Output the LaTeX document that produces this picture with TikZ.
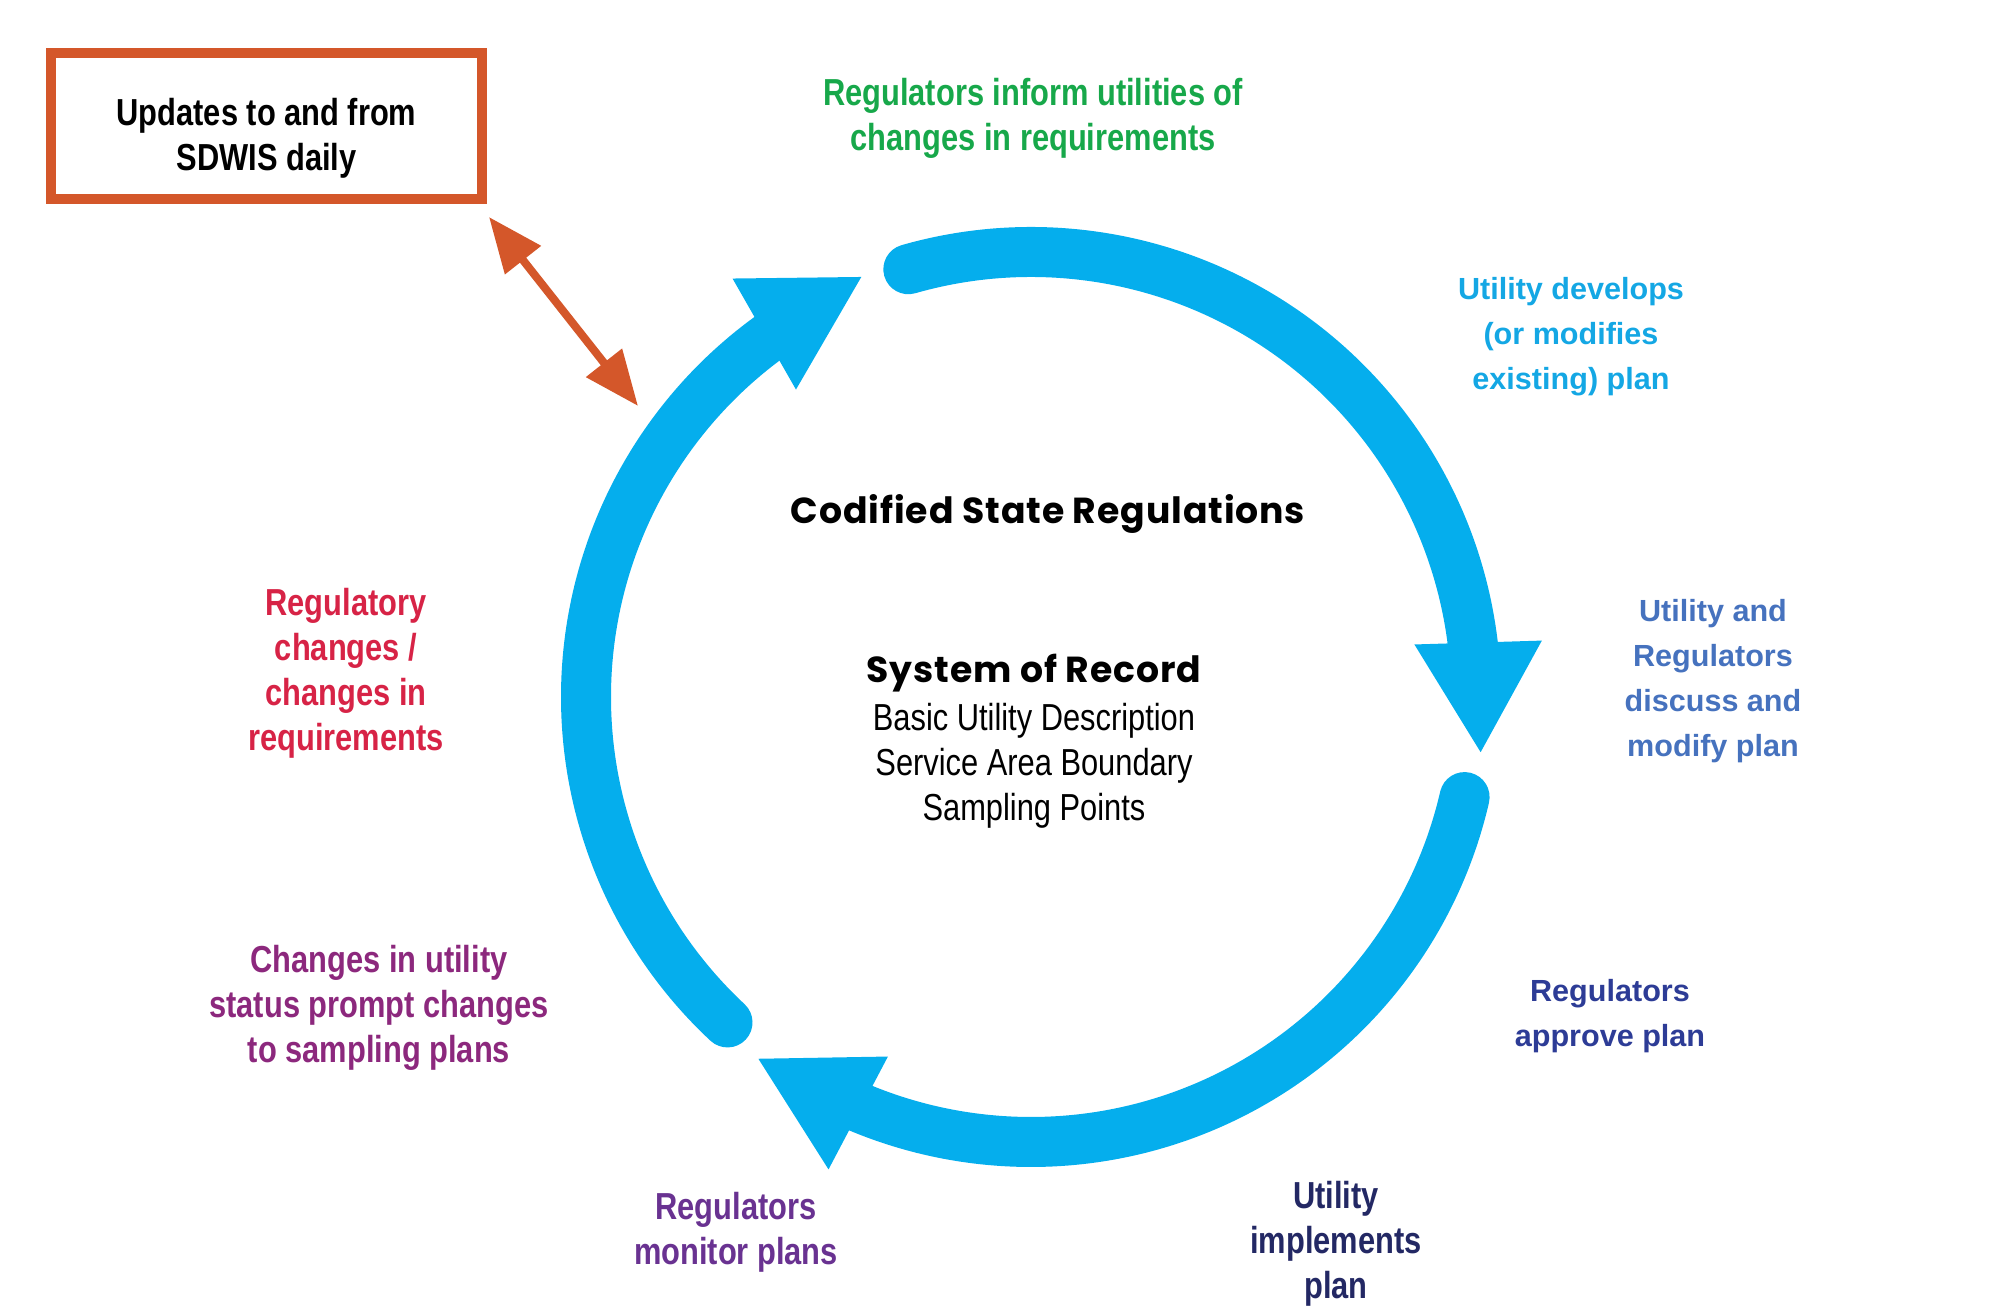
\documentclass[tikz,border=0pt]{standalone}
\usepackage{fontspec}
\usetikzlibrary{arrows.meta}
\newfontfamily\narrowsf[FakeStretch=0.82]{Liberation Sans}
\newfontfamily\widesf{Liberation Sans}
\newfontfamily\geosf[LetterSpace=2.5]{Poppins}
\definecolor{ringblue}{RGB}{5,174,237}
\definecolor{updorange}{RGB}{212,87,42}
\definecolor{informgreen}{RGB}{23,168,74}
\definecolor{devblue}{RGB}{20,167,228}
\definecolor{discblue}{RGB}{70,114,190}
\definecolor{apprblue}{RGB}{45,60,150}
\definecolor{implnavy}{RGB}{35,40,100}
\definecolor{monpurple}{RGB}{105,50,145}
\definecolor{statplum}{RGB}{140,40,125}
\definecolor{regred}{RGB}{215,35,70}

\begin{document}
\begin{tikzpicture}[
    ring/.style={ringblue, line width=5mm, line cap=round},
    lbl/.style={align=center, font=\narrowsf\bfseries\fontsize{10.7}{12.8}\selectfont},
    wlbl/.style={align=center, font=\widesf\bfseries\fontsize{8.7}{12.8}\selectfont},
    ttl/.style={font=\geosf\bfseries\fontsize{10.3}{12}\selectfont}]
  \useasboundingbox (0,0) rectangle (20,13.14);
  \coordinate (c) at (10.31,6.17);
  % three arcs, each ending in a big triangle
  \foreach \s/\m/\i/\o/\t in {106/6/7.8/6.3/-7, -13/-113/-111.7/-113.2/-127, 227/125/127.4/125.5/112}{
    \draw[ring] (c) ++(\s:4.45) arc[start angle=\s, end angle=\m, radius=4.45];
    \fill[ringblue] ([shift={(\i:3.87)}]c) -- ([shift={(\o:5.14)}]c)
      -- ([shift={(\t:4.53)}]c) -- cycle;
  }
  \node[ttl] (csr) at (10.48,8.00) {Codified State Regulations};
  \node[align=center, font=\narrowsf\fontsize{10.7}{12.8}\selectfont] (sor) at (10.34,5.73)
    {{\geosf\bfseries\fontsize{10.3}{12}\selectfont System of Record}\\[1pt]
     Basic Utility Description\\Service Area Boundary\\Sampling Points};
  % step labels round the ring
  \node[lbl, informgreen] (inf) at (10.33,11.96) {Regulators inform utilities of\\changes in requirements};
  \node[wlbl, devblue] (dev) at (15.71,9.77) {Utility develops\\(or modifies\\existing) plan};
  \node[wlbl, discblue] (dsc) at (17.13,6.33) {Utility and\\Regulators\\discuss and\\modify plan};
  \node[wlbl, apprblue] (apr) at (16.10,2.98) {Regulators\\approve plan};
  \node[lbl, implnavy] (imp) at (13.36,0.70) {Utility\\implements\\plan};
  \node[lbl, monpurple] (mon) at (7.36,0.82) {Regulators\\monitor plans};
  \node[lbl, statplum] (sta) at (3.79,3.06) {Changes in utility\\status prompt changes\\to sampling plans};
  \node[lbl, regred] (reg) at (3.46,6.41) {Regulatory\\changes /\\changes in\\requirements};
  % SDWIS box and its link to the ring
  \node[lbl, draw=updorange, line width=1mm, minimum width=4.31cm, minimum height=1.46cm]
    (upd) at (2.665,11.88) {\rule{0pt}{15pt}Updates to and from\\SDWIS daily};
  \coordinate (sdw) at (6.38,9.08);
  \draw[updorange, line width=0.8mm,
    {Triangle[length=5.5mm,width=4.4mm]}-{Triangle[length=5.5mm,width=4.4mm]}]
    ([shift={(0.02,-0.13)}]upd.south east) -- (sdw);
\end{tikzpicture}
\end{document}
